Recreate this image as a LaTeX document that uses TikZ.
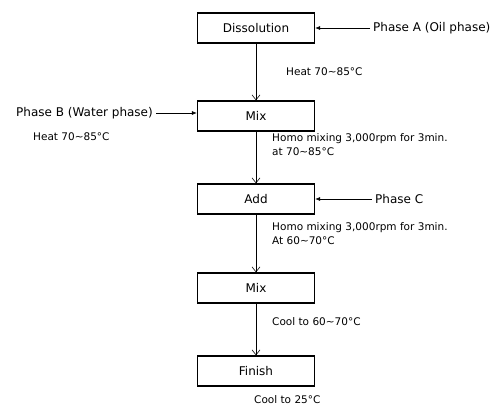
\documentclass[tikz,border=0pt]{standalone}
\usepackage{fontspec}
\setmainfont{DejaVu Sans}
\usetikzlibrary{arrows.meta}
\tikzset{
    block/.style = {draw, rectangle, line width=1.3pt,
        minimum height=30pt,
        minimum width=117pt, font=\fontsize{12}{14}\selectfont},
    phase/.style = {anchor=west, inner sep=3pt, font=\fontsize{12}{14}\selectfont},
    note/.style = {anchor=west, font=\fontsize{10.5}{14}\selectfont, inner sep=0pt},
    flow/.style = {draw, line width=0.6pt, -{Straight Barb[length=5pt,width=8pt]}},
    feed/.style = {draw, line width=0.6pt, -{Latex[length=5pt,width=4pt]}}
}
\begin{document}
\begin{tikzpicture}[x=1pt,y=-1pt]
    \useasboundingbox (0,0) rectangle (499,407);
    % process steps
    \node[block] (diss) at (256,28) {Dissolution};
    \node[block] (mixa) at (256,116) {Mix};
    \node[block] (add) at (256,199) {Add};
    \node[block] (mixb) at (256,288) {Mix};
    \node[block] (fin) at (256,371) {Finish};
    % phases
    \node[phase] (pa) at (370,28) {Phase A (Oil phase)};
    \node[phase,anchor=east] (pb) at (156,113) {Phase B (Water phase)};
    \node[phase] (pc) at (372,199) {Phase C};
    \draw[feed] (pa) -- (diss);
    \draw[feed] (pb.east) -- (pb.east -| mixa.west);
    \draw[feed] (pc) -- (add);
    \draw[flow] (diss) -- (mixa);
    \draw[flow] (mixa) -- (add);
    \draw[flow] (add) -- (mixb);
    \draw[flow] (mixb) -- (fin);
    % conditions
    \node[note] (t1) at (286,72) {Heat 70\textasciitilde85°C};
    \node[note] (t2) at (33,137) {Heat 70\textasciitilde85°C};
    \node[note,align=left] (t3) at (272,145) {Homo mixing 3,000rpm for 3min.\\at 70\textasciitilde85°C};
    \node[note,align=left] (t4) at (272,234) {Homo mixing 3,000rpm for 3min.\\At 60\textasciitilde70°C};
    \node[note] (t5) at (272,322) {Cool to 60\textasciitilde70°C};
    \node[note] (t6) at (254,400) {Cool to 25°C};
\end{tikzpicture}
\end{document}
